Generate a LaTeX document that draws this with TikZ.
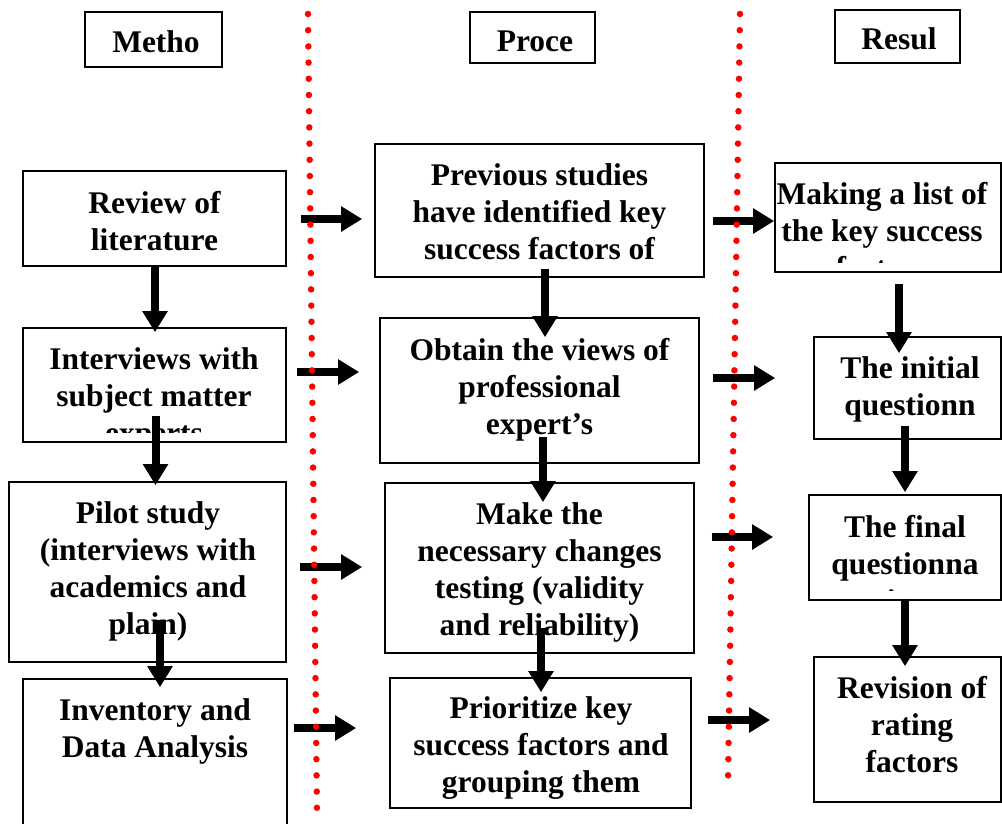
\documentclass[tikz,border=0pt]{standalone}
\usepackage{fontspec}
\setmainfont{Liberation Serif}
\usetikzlibrary{arrows.meta}
\newcommand{\txtfont}{\fontsize{31.5}{37}\selectfont\bfseries}
\tikzset{
  box/.style={draw, line width=1.6pt, fill=white, inner sep=0pt, rectangle},
  htxt/.style={font=\txtfont, inner sep=0pt, anchor=base},
  txt/.style={font=\txtfont, align=center, inner sep=0pt, anchor=north, yshift=-5.5pt, execute at begin node=\strut},
  arr/.style={line width=8pt, -{Triangle[width=24pt,length=21pt]}},
  sep/.style={red, line width=6.5pt, line cap=round, dash pattern=on 0pt off 16.2pt},
}
\begin{document}
\begin{tikzpicture}[x=1pt,y=-1pt]
\useasboundingbox (0,0) rectangle (1002,823);

% headers
\node[box, minimum width=137pt, minimum height=55pt] (mh) at (153.5,39.5) {};
\node[htxt] (mht) at (156,52) {Metho};
\node[box, minimum width=125pt, minimum height=51pt] (ph) at (532.5,37.5) {};
\node[htxt] (pht) at (535,51) {Proce};
\node[box, minimum width=125pt, minimum height=53pt] (rh) at (897.5,36.5) {};
\node[htxt] (rht) at (899,49.5) {Resul};

% boxes
\node[box, minimum width=263pt, minimum height=95pt]  (rev)  at (154.5,218.5) {};
\node[box, minimum width=263pt, minimum height=114pt] (int)  at (154.5,385) {};
\node[box, minimum width=277pt, minimum height=180pt] (pil)  at (147.5,572) {};
\node[box, minimum width=264pt, minimum height=161pt] (inv)  at (155,759.5) {};
\node[box, minimum width=329pt, minimum height=133pt] (prev) at (539.5,210.5) {};
\node[box, minimum width=319pt, minimum height=145pt] (obt)  at (539.5,390.5) {};
\node[box, minimum width=309pt, minimum height=170pt] (mak)  at (539.5,568) {};
\node[box, minimum width=301pt, minimum height=130pt] (pri)  at (540.5,743) {};
\node[box, minimum width=226pt, minimum height=109pt] (lst)  at (888,217.5) {};
\node[box, minimum width=187pt, minimum height=102pt] (ini)  at (907.5,388) {};
\node[box, minimum width=192pt, minimum height=105pt] (fin)  at (905,547.5) {};
\node[box, minimum width=187pt, minimum height=145pt] (revi) at (907.5,729.5) {};

% texts, clipped to the inner area of each box
\begin{scope}\clip (rev.north west) rectangle ([yshift=10pt]rev.south east);
\node[txt] (revt) at (154.5,185.6) {Review of\\literature};\end{scope}
\begin{scope}\clip (int.north west) rectangle ([yshift=10pt]int.south east);
\node[txt] (intt) at (154,342.1) {Interviews with\\subject matter\\experts};\end{scope}
\begin{scope}\clip (pil.north west) rectangle ([yshift=10pt]pil.south east);
\node[txt] (pilt) at (148,496.1) {Pilot study\\(interviews with\\academics and\\plain)};\end{scope}
\begin{scope}\clip (inv.north west) rectangle ([yshift=10pt]inv.south east);
\node[txt] (invt) at (155,693.1) {Inventory and\\Data Analysis};\end{scope}
\begin{scope}\clip (prev.north west) rectangle ([yshift=10pt]prev.south east);
\node[txt] (prevt) at (539.5,157.6) {Previous studies\\have identified key\\success factors of};\end{scope}
\begin{scope}\clip (obt.north west) rectangle ([yshift=10pt]obt.south east);
\node[txt] (obtt) at (539.5,333.1) {Obtain the views of\\professional\\expert’s};\end{scope}
\begin{scope}\clip (mak.north west) rectangle ([yshift=10pt]mak.south east);
\node[txt] (makt) at (539.5,497.1) {Make the\\necessary changes\\testing (validity\\and reliability)};\end{scope}
\begin{scope}\clip (pri.north west) rectangle ([yshift=10pt]pri.south east);
\node[txt] (prit) at (541,691.1) {Prioritize key\\success factors and\\grouping them};\end{scope}
\begin{scope}\clip (lst.north west) rectangle ([yshift=10pt]lst.south east);
\node[txt] (lstt) at (882,177.1) {Making a list of\\the key success\\factors};\end{scope}
\begin{scope}\clip (ini.north west) rectangle ([yshift=10pt]ini.south east);
\node[txt] (init) at (910,351.1) {The initial\\questionn\\aire};\end{scope}
\begin{scope}\clip (fin.north west) rectangle ([yshift=10pt]fin.south east);
\node[txt] (fint) at (905,510.1) {The final\\questionna\\ire};\end{scope}
\begin{scope}\clip (revi.north west) rectangle ([yshift=10pt]revi.south east);
\node[txt] (revit) at (912,671.1) {Revision of\\rating\\factors};\end{scope}

% horizontal arrows
\draw[arr] ([shift={(14,0.5)}]rev.east) -- ([shift={(-12,8.5)}]prev.west);
\draw[arr] ([shift={(10,-13)}]int.east) -- ([shift={(-20,-18.5)}]obt.west);
\draw[arr] ([shift={(13,-5)}]pil.east) -- ([shift={(-22,-1)}]mak.west);
\draw[arr] ([shift={(6,-31.5)}]inv.east) -- ([shift={(-33,-15)}]pri.west);
\draw[arr] ([shift={(8,10.5)}]prev.east) -- ([shift={(0,3.5)}]lst.west);
\draw[arr] ([shift={(13,-12.5)}]obt.east) -- ([shift={(-38,-10)}]ini.west);
\draw[arr] ([shift={(17,-31)}]mak.east) -- ([shift={(-35,-10.5)}]fin.west);
\draw[arr] ([shift={(16,-23)}]pri.east) -- ([shift={(-43,-9.5)}]revi.west);

% vertical arrows
\draw[arr] ([shift={(0.5,-2)}]rev.south) -- ([shift={(0.5,5)}]int.north);
\draw[arr] ([shift={(1,-27)}]int.south) -- ([shift={(8,4)}]pil.north);
\draw[arr] ([shift={(12.5,-43)}]pil.south) -- ([shift={(5,9)}]inv.north);
\draw[arr] ([shift={(5.5,-9)}]prev.south) -- ([shift={(5.5,20)}]obt.north);
\draw[arr] ([shift={(3.5,-27)}]obt.south) -- ([shift={(3.5,20)}]mak.north);
\draw[arr] ([shift={(1.5,-26)}]mak.south) -- ([shift={(0.5,15)}]pri.north);
\draw[arr] ([shift={(11,11)}]lst.south) -- ([shift={(-8.5,17)}]ini.north);
\draw[arr] ([shift={(-2.5,-14)}]ini.south) -- ([shift={(0,-2)}]fin.north);
\draw[arr] ([shift={(0,-2)}]fin.south) -- ([shift={(-2.5,10)}]revi.north);

% red dotted separators
\coordinate (s1a) at (308,14);  \coordinate (s1b) at (317,812);
\coordinate (s2a) at (740,14);  \coordinate (s2b) at (728,780);
\draw[sep] (s1a) -- (s1b);
\draw[sep] (s2a) -- (s2b);
\end{tikzpicture}
\end{document}
